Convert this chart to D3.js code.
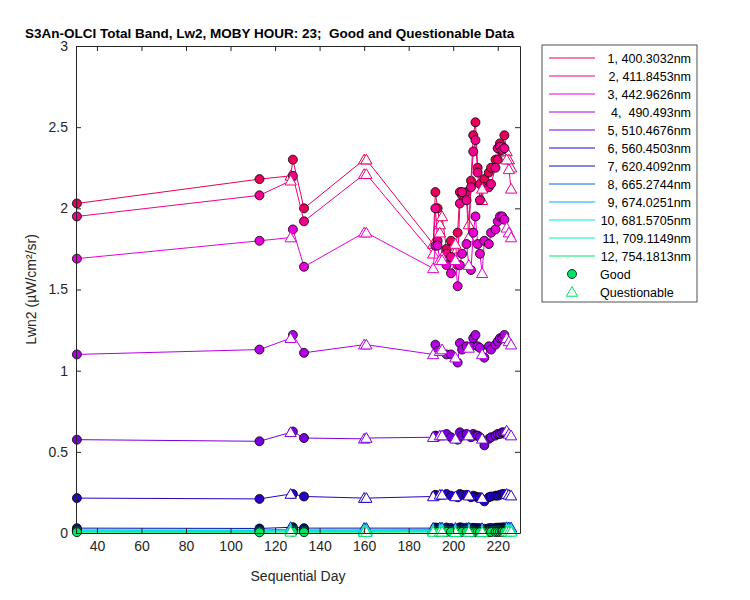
<!DOCTYPE html>
<html><head><meta charset="utf-8">
<script src="https://cdn.jsdelivr.net/npm/d3@7"></script>
<style>body{margin:0;background:#fff}text{font-family:"Liberation Sans",Arial,sans-serif}</style>
</head><body><div id="chart"></div>
<script>
// Data
let days = [31,113,127,128,133,160,161,191,192,193,194,195,197,199,201,202,203,204,206,207,208,209,210,211,212,213,214,216,217,219,220,221,222,223,224,225,226]
let flags = `GGQGGQQQGGQQGGQGGGGQGGGGGQGGGGGGGGQQQ`.split(``)
let bandNames = [`1, 400.3032nm`,`2, 411.8453nm`,`3, 442.9626nm`,`4,  490.493nm`,`5, 510.4676nm`,`6, 560.4503nm`,`7, 620.4092nm`,`8, 665.2744nm`,`9, 674.0251nm`,`10, 681.5705nm`,`11, 709.1149nm`,`12, 754.1813nm`]
let bandColors = [`#e6005a`,`#f0008c`,`#e600d2`,`#b400e6`,`#7800dc`,`#2800c8`,`#0014b4`,`#0064f0`,`#00aaf0`,`#00e6f0`,`#00f0b4`,`#00e664`]
let b1 = [2.03,2.18,2.2,2.3,2.0,2.3,2.3,1.78,2.1,2.0,1.9,1.95,1.75,1.8,1.75,1.85,2.1,2.08,2.1,1.9,2.17,2.45,2.53,2.25,2.15,2.05,2.18,2.22,2.25,2.3,2.3,2.4,2.35,2.45,2.35,2.3,2.25]
let b2 = [1.95,2.08,2.17,2.2,1.92,2.21,2.21,1.72,2.0,1.8,1.85,1.7,1.72,1.7,1.78,1.65,2.03,2.1,2.05,1.82,2.13,2.35,2.42,2.22,2.05,2.12,2.13,2.13,2.15,2.25,2.37,2.38,2.36,2.37,2.3,2.24,2.12]
let b3 = [1.69,1.8,1.82,1.87,1.64,1.85,1.85,1.63,1.77,1.77,1.68,1.68,1.65,1.6,1.68,1.52,1.65,1.72,1.78,1.65,1.62,1.85,1.95,1.78,1.72,1.6,1.8,1.78,1.85,1.87,1.92,1.95,1.95,1.93,1.88,1.85,1.82]
let b4 = [1.1,1.13,1.2,1.22,1.11,1.16,1.16,1.1,1.16,1.12,1.12,1.13,1.1,1.1,1.08,1.05,1.17,1.13,1.15,1.14,1.15,1.2,1.22,1.15,1.14,1.1,1.08,1.15,1.13,1.16,1.18,1.2,1.2,1.22,1.2,1.18,1.16]
let b5 = [0.575,0.565,0.62,0.625,0.585,0.58,0.585,0.59,0.6,0.595,0.6,0.6,0.61,0.59,0.58,0.575,0.62,0.6,0.61,0.6,0.59,0.61,0.6,0.6,0.59,0.58,0.54,0.58,0.59,0.6,0.61,0.61,0.62,0.62,0.63,0.61,0.6]
let b6 = [0.215,0.21,0.24,0.24,0.225,0.215,0.215,0.225,0.235,0.23,0.235,0.235,0.24,0.23,0.225,0.22,0.24,0.235,0.235,0.23,0.22,0.23,0.225,0.22,0.22,0.215,0.195,0.22,0.225,0.23,0.23,0.235,0.24,0.24,0.24,0.235,0.23]
let b7 = [0.03,0.028,0.035,0.036,0.03,0.03,0.03,0.03,0.034,0.032,0.033,0.033,0.034,0.031,0.03,0.028,0.035,0.033,0.033,0.032,0.03,0.032,0.031,0.03,0.03,0.029,0.026,0.03,0.031,0.032,0.033,0.033,0.034,0.035,0.035,0.034,0.033]
let b8 = [0.018,0.017,0.022,0.023,0.018,0.018,0.018,0.019,0.021,0.02,0.021,0.021,0.022,0.019,0.018,0.017,0.022,0.02,0.021,0.02,0.018,0.02,0.019,0.018,0.018,0.017,0.015,0.018,0.019,0.02,0.021,0.021,0.022,0.022,0.023,0.022,0.021]
let b9 = [0.016,0.015,0.02,0.021,0.016,0.016,0.016,0.017,0.019,0.018,0.019,0.019,0.02,0.017,0.016,0.015,0.02,0.018,0.019,0.018,0.016,0.018,0.017,0.016,0.016,0.015,0.013,0.016,0.017,0.018,0.019,0.019,0.02,0.02,0.021,0.02,0.019]
let b10 = [0.015,0.014,0.019,0.02,0.015,0.015,0.015,0.016,0.018,0.017,0.018,0.018,0.019,0.016,0.015,0.014,0.019,0.017,0.018,0.017,0.015,0.017,0.016,0.015,0.015,0.014,0.012,0.015,0.016,0.017,0.018,0.018,0.019,0.019,0.02,0.019,0.018]
let b11 = [0.01,0.009,0.013,0.014,0.01,0.01,0.01,0.011,0.012,0.011,0.012,0.012,0.013,0.011,0.01,0.009,0.013,0.011,0.012,0.011,0.01,0.011,0.011,0.01,0.01,0.009,0.008,0.01,0.011,0.011,0.012,0.012,0.013,0.013,0.013,0.012,0.012]
let b12 = [0.005,0.004,0.007,0.008,0.005,0.005,0.005,0.006,0.007,0.006,0.007,0.007,0.007,0.006,0.005,0.005,0.007,0.006,0.007,0.006,0.005,0.006,0.006,0.005,0.005,0.005,0.004,0.005,0.006,0.006,0.007,0.007,0.007,0.007,0.008,0.007,0.007]
let bands = [b1,b2,b3,b4,b5,b6,b7,b8,b9,b10,b11,b12]
let xTicks = [40,60,80,100,120,140,160,180,200,220]
let yTicks = [0,0.5,1,1.5,2,2.5,3]

let width = 750, height = 600
let m = { left: 76, right: 520, top: 46, bottom: 533 }

let svg = d3.select(`#chart`).append(`svg`).attr(`width`, width).attr(`height`, height)

let x = d3.scaleLinear().domain([30.6, 230]).range([m.left, m.right])
let y = d3.scaleLinear().domain([0, 3]).range([m.bottom, m.top])

let plot = svg.append(`g`)
let line = d3.line().x(d => x(d[0])).y(d => y(d[1]))
let tri = d3.symbol().type(d3.symbolTriangle).size(55)

bands.forEach((vals, i) => {
  let pts = days.map((d, j) => [d, vals[j], flags[j]])
  let c = bandColors[i]
  plot.append(`path`).datum(pts).attr(`d`, line)
    .attr(`fill`, `none`).attr(`stroke`, c).attr(`stroke-width`, 1)
  plot.selectAll(null).data(pts.filter(p => p[2] === `G`)).join(`circle`)
    .attr(`cx`, p => x(p[0])).attr(`cy`, p => y(p[1])).attr(`r`, 4.5)
    .attr(`fill`, c).attr(`stroke`, `#000`).attr(`stroke-width`, 0.8)
  plot.selectAll(null).data(pts.filter(p => p[2] === `Q`)).join(`path`)
    .attr(`d`, tri).attr(`transform`, p => `translate(${x(p[0])},${y(p[1]) + 1})`)
    .attr(`fill`, `#fff`).attr(`stroke`, c).attr(`stroke-width`, 1)
})

// Axes
let xAxis = svg.append(`g`).attr(`transform`, `translate(0,${m.bottom})`)
  .call(d3.axisBottom(x).tickValues(xTicks).tickSizeInner(-5).tickSizeOuter(0).tickPadding(8))
let xTop = svg.append(`g`).attr(`transform`, `translate(0,${m.top})`)
  .call(d3.axisTop(x).tickValues(xTicks).tickSizeInner(-5).tickSizeOuter(0).tickFormat(``))
let yAxis = svg.append(`g`).attr(`transform`, `translate(${m.left},0)`)
  .call(d3.axisLeft(y).tickValues(yTicks).tickFormat(d3.format(`~g`)).tickSizeInner(-5).tickSizeOuter(0).tickPadding(8))
let yRight = svg.append(`g`).attr(`transform`, `translate(${m.right},0)`)
  .call(d3.axisRight(y).tickValues(yTicks).tickSizeInner(-5).tickSizeOuter(0).tickFormat(``))
;[xAxis, xTop, yAxis, yRight].forEach(a => {
  a.selectAll(`path,line`).attr(`stroke`, `#262626`)
  a.selectAll(`text`).attr(`fill`, `#262626`).style(`font-size`, `14px`)
})

svg.append(`text`).attr(`x`, (m.left + m.right) / 2).attr(`y`, 581).attr(`text-anchor`, `middle`)
  .style(`font-size`, `14px`).attr(`fill`, `#262626`).text(`Sequential Day`)
svg.append(`text`).attr(`transform`, `translate(36,${(m.top + m.bottom) / 2}) rotate(-90)`)
  .attr(`text-anchor`, `middle`).style(`font-size`, `14px`).attr(`fill`, `#262626`).text(`Lwn2 (µW/cm²/sr)`)
svg.append(`text`).attr(`x`, 25).attr(`y`, 38).style(`font-size`, `13.5px`).style(`font-weight`, `bold`)
  .style(`white-space`, `pre`).attr(`fill`, `#000`).text(`S3An-OLCI Total Band, Lw2, MOBY HOUR: 23;  Good and Questionable Data`)

// Legend
let lg = svg.append(`g`).attr(`transform`, `translate(542,45)`)
lg.append(`rect`).attr(`width`, 155).attr(`height`, 257).attr(`fill`, `#fff`).attr(`stroke`, `#262626`).attr(`stroke-width`, 0.8)
bandNames.forEach((n, i) => {
  let yy = 13 + i * 18
  lg.append(`line`).attr(`x1`, 7).attr(`x2`, 53).attr(`y1`, yy).attr(`y2`, yy).attr(`stroke`, bandColors[i])
  lg.append(`text`).attr(`x`, 149).attr(`y`, yy + 4.5).attr(`text-anchor`, `end`).style(`white-space`, `pre`).style(`font-size`, `12.5px`).text(n)
})
lg.append(`circle`).attr(`cx`, 30).attr(`cy`, 13 + 12 * 18).attr(`r`, 4.5).attr(`fill`, bandColors[11]).attr(`stroke`, `#000`).attr(`stroke-width`, 0.8)
lg.append(`text`).attr(`x`, 58).attr(`y`, 17.5 + 12 * 18).style(`font-size`, `12.5px`).text(`Good`)
lg.append(`path`).attr(`d`, tri).attr(`transform`, `translate(30,${14 + 13 * 18})`).attr(`fill`, `#fff`).attr(`stroke`, bandColors[11])
lg.append(`text`).attr(`x`, 58).attr(`y`, 17.5 + 13 * 18).style(`font-size`, `12.5px`).text(`Questionable`)
</script></body></html>
